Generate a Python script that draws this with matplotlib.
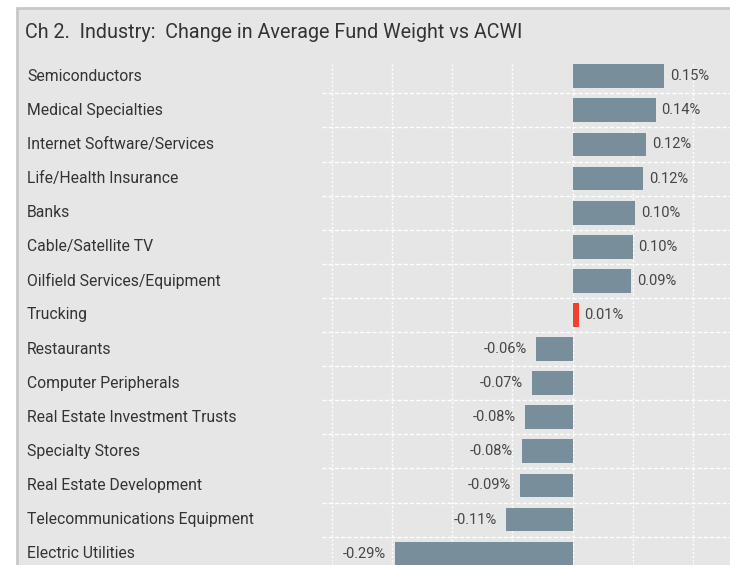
import matplotlib.pyplot as plt
import matplotlib.transforms as mtransforms
from matplotlib.patches import Rectangle
import numpy as np

plt.rcParams['font.family'] = ['Roboto', 'DejaVu Sans']

# data
industries = ['Semiconductors', 'Medical Specialties', 'Internet Software/Services',
              'Life/Health Insurance', 'Banks', 'Cable/Satellite TV',
              'Oilfield Services/Equipment', 'Trucking', 'Restaurants',
              'Computer Peripherals', 'Real Estate Investment Trusts',
              'Specialty Stores', 'Real Estate Development',
              'Telecommunications Equipment', 'Electric Utilities']
change = [0.152, 0.138, 0.122, 0.117, 0.104, 0.100, 0.097, 0.010,
          -0.061, -0.068, -0.080, -0.085, -0.088, -0.111, -0.295]
value_labels = ['0.15%', '0.14%', '0.12%', '0.12%', '0.10%', '0.10%', '0.09%', '0.01%',
                '-0.06%', '-0.07%', '-0.08%', '-0.08%', '-0.09%', '-0.11%', '-0.29%']
highlight = 'Trucking'
grid_ticks = [-0.4, -0.3, -0.2, -0.1, 0.0, 0.1, 0.2]

W, H = 730, 565
fig = plt.figure(figsize=(W / 100, H / 100), dpi=100)
fig.patch.set_facecolor('white')

# grey panel with border
panel = Rectangle((17 / W, -0.05), 1.1, (H - 8) / H + 0.05, transform=fig.transFigure,
                  facecolor='#e6e6e6', edgecolor='#c8c8c8', linewidth=2, zorder=-5)
fig.patches.append(panel)

fig.text(25 / W, 1 - 33 / H, 'Ch 2.  Industry:  Change in Average Fund Weight vs ACWI',
         fontsize=14.2, color='#333333', va='center', ha='left')

ax = fig.add_axes([322 / W, (H - 570.7) / H, (W - 322) / W, 511.5 / H])
ax.set_facecolor('none')
ax.set_xlim(-0.4164, 0.2613)
ax.set_ylim(len(industries) - 0.5, -0.5)

y = np.arange(len(industries))
colors = ['#f04030' if n == highlight else '#788f9b' for n in industries]
ax.barh(y, change, height=0.7, color=colors, zorder=3)

for v in grid_ticks:
    ax.axvline(v, ymax=0.995, color='white', linewidth=1, linestyle=(0, (1.5, 1.5)), zorder=1)
for b in np.arange(0.5, len(industries) - 0.5, 1.0):
    ax.axhline(b, color='white', linewidth=1, linestyle=(0, (3, 1.5)), zorder=1)

for yi, v, lab in zip(y, change, value_labels):
    if v >= 0:
        ax.annotate(lab, (v, yi), xytext=(4, 0), textcoords='offset points',
                    ha='left', va='center', fontsize=10.5, color='#454545', zorder=4)
    else:
        ax.annotate(lab, (v, yi), xytext=(-6.5, 0), textcoords='offset points',
                    ha='right', va='center', fontsize=10.5, color='#454545', zorder=4)

trans = mtransforms.blended_transform_factory(fig.transFigure, ax.transData)
for yi, name in zip(y, industries):
    ax.text(27 / W, yi, name, transform=trans, ha='left', va='center',
            fontsize=11.3, color='#333333', clip_on=False)

ax.set_xticks([])
ax.set_yticks([])
for s in ax.spines.values():
    s.set_visible(False)

fig.savefig('out.png', dpi=100, facecolor=fig.get_facecolor())
